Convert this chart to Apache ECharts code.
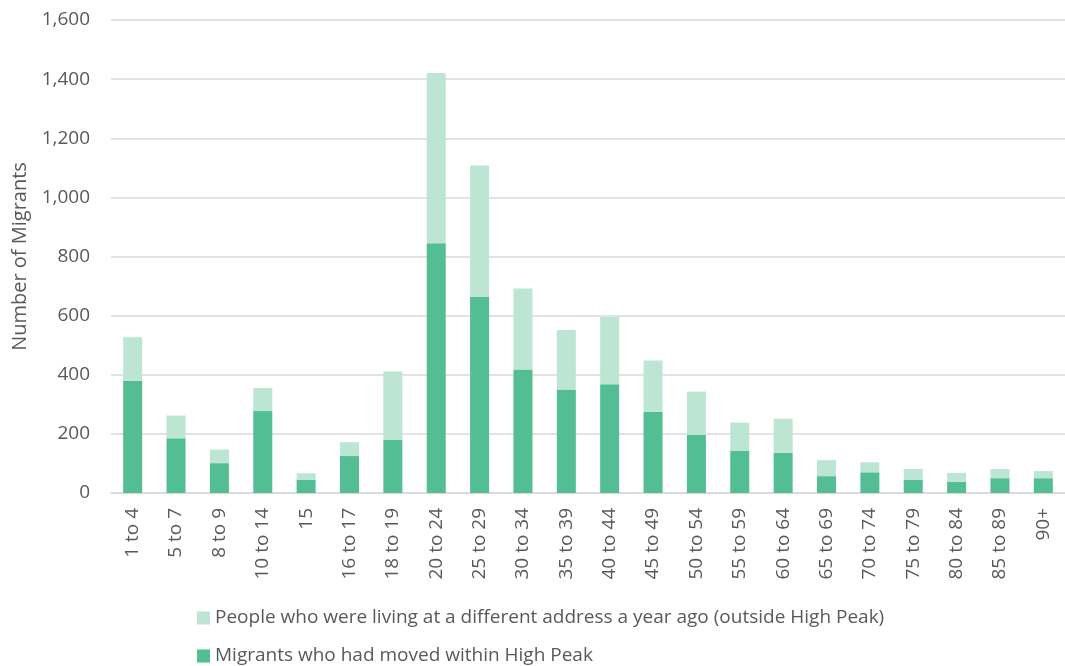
<!DOCTYPE html>
<html>
<head>
<meta charset="utf-8">
<script src="https://cdn.jsdelivr.net/npm/echarts@6/dist/echarts.min.js"></script>
<style>
  html, body { margin: 0; padding: 0; background: #ffffff; }
  #chart { width: 1065px; height: 666px; }
</style>
</head>
<body>
<div id="chart"></div>
<script>
// Age bands of migrants
const ageBands = ['1 to 4', '5 to 7', '8 to 9', '10 to 14', '15', '16 to 17', '18 to 19',
  '20 to 24', '25 to 29', '30 to 34', '35 to 39', '40 to 44', '45 to 49', '50 to 54',
  '55 to 59', '60 to 64', '65 to 69', '70 to 74', '75 to 79', '80 to 84', '85 to 89', '90+'];

// Migrants who had moved within High Peak (lower segment)
const withinHighPeak = [380, 185, 101, 277, 44, 125, 179, 845, 663, 418, 350, 368, 275, 197,
  142, 136, 57, 70, 45, 38, 50, 50];

// People living at a different address a year ago, outside High Peak (upper segment)
const outsideHighPeak = [147, 77, 46, 78, 23, 47, 232, 576, 445, 274, 201, 227, 173, 146,
  96, 115, 54, 34, 36, 30, 31, 24];

const yTicks = { min: 0, max: 1600, interval: 200 };

const nameWithin = 'Migrants who had moved within High Peak';
const nameOutside = 'People who were living at a different address a year ago (outside High Peak)';

const textColor = '#595959';
const fontFamily = '"Open Sans", Lato, sans-serif';

// one legend row per series, stacked vertically under the axis labels
function legendRow(name, top) {
  return {
    orient: 'vertical',
    left: 197,
    top: top,
    padding: 0,
    itemWidth: 13,
    itemHeight: 13,
    itemGap: 0,
    icon: 'rect',
    data: [name],
    textStyle: { fontFamily: fontFamily, fontSize: 19, color: textColor, lineHeight: 22 }
  };
}

const chart = echarts.init(document.getElementById('chart'), null, { renderer: 'canvas' });

chart.setOption({
  animation: false,
  backgroundColor: '#ffffff',
  textStyle: { fontFamily: fontFamily, color: textColor },
  grid: { left: 111, top: 20, width: 960, height: 473, containLabel: false },
  legend: [
    legendRow(nameOutside, 607),
    legendRow(nameWithin, 645)
  ],
  xAxis: {
    type: 'category',
    data: ageBands,
    axisTick: { show: false },
    axisLine: { show: true, lineStyle: { color: '#d9d9d9', width: 1.5 } },
    axisLabel: {
      rotate: 90,
      margin: 15,
      interval: 0,
      fontSize: 19,
      color: textColor,
      fontFamily: fontFamily
    }
  },
  yAxis: {
    type: 'value',
    min: yTicks.min,
    max: yTicks.max,
    interval: yTicks.interval,
    name: 'Number of Migrants',
    nameLocation: 'middle',
    nameGap: 78,
    nameTextStyle: { fontSize: 20, color: textColor, fontFamily: fontFamily },
    axisLine: { show: false },
    axisTick: { show: false },
    axisLabel: {
      margin: 21,
      fontSize: 19,
      color: textColor,
      fontFamily: fontFamily,
      formatter: v => v.toLocaleString('en-US')
    },
    splitLine: { lineStyle: { color: '#d9d9d9', width: 1.5 } }
  },
  series: [
    {
      name: nameWithin,
      type: 'bar',
      stack: 'total',
      barWidth: 19,
      data: withinHighPeak,
      itemStyle: { color: '#53bd93' }
    },
    {
      name: nameOutside,
      type: 'bar',
      stack: 'total',
      barWidth: 19,
      data: outsideHighPeak,
      itemStyle: { color: '#bce5d4' }
    }
  ]
});
</script>
</body>
</html>
